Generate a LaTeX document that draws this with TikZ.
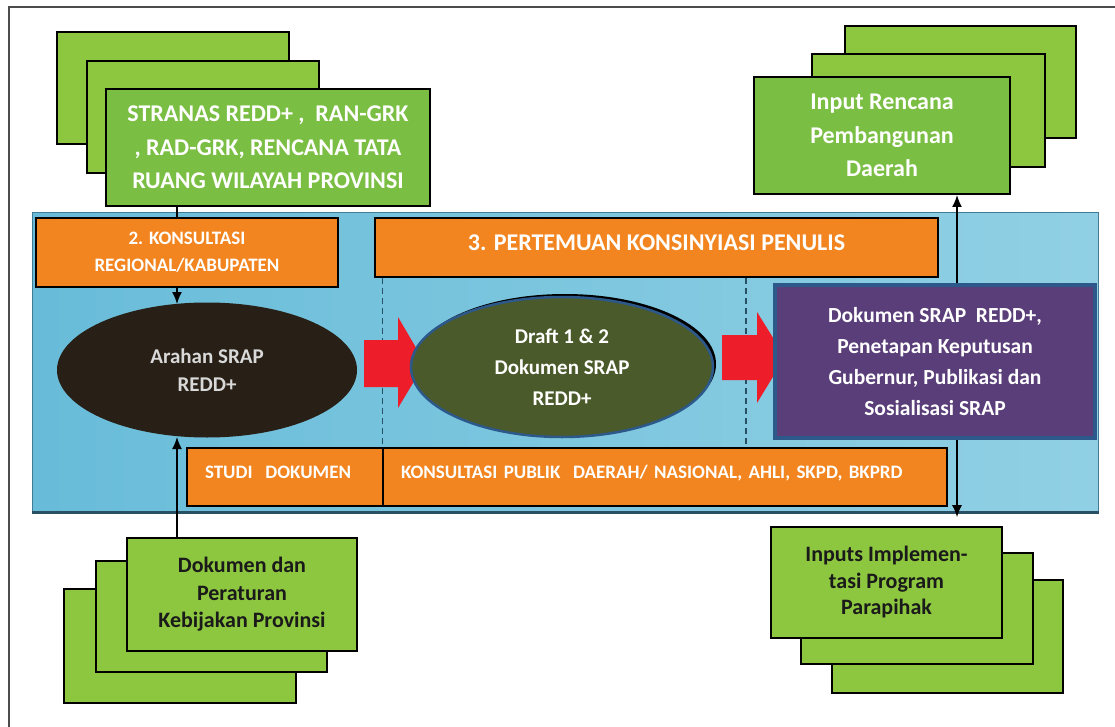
\documentclass[tikz,border=0pt]{standalone}
\usepackage{fontspec}
\setmainfont{Carlito}
\usetikzlibrary{shapes.geometric,arrows.meta}
\definecolor{leafgreen}{RGB}{122,190,67}
\definecolor{limegreen}{RGB}{141,198,63}
\definecolor{konsorange}{RGB}{242,133,31}
\definecolor{bandblue}{RGB}{104,188,217}
\definecolor{bandlight}{RGB}{145,208,228}
\definecolor{bandedge}{RGB}{40,80,100}
\definecolor{arahbrown}{RGB}{40,32,22}
\definecolor{draftolive}{RGB}{74,90,42}
\definecolor{edgeblue}{RGB}{45,88,138}
\definecolor{srappurple}{RGB}{89,62,121}
\definecolor{flowred}{RGB}{238,29,42}
\definecolor{darktext}{RGB}{26,26,26}

\begin{document}
\begin{tikzpicture}[x=1pt, y=-1pt,
  stackback/.style={draw=black, line width=1.6pt, fill=limegreen, minimum width=232pt, minimum height=112pt, inner sep=0pt},
  stackfront/.style={draw=black, line width=2pt, fill=leafgreen, text=white, align=center, inner sep=0pt},
  kotak/.style={draw=black, line width=1.2pt, fill=konsorange, text=white, align=center, inner sep=0pt},
  kotakkiri/.style={draw=black, line width=1.2pt, fill=konsorange, text=white, align=left, inner xsep=18pt, inner ysep=0pt, minimum height=58pt, text height=14pt, text depth=12pt, font=\bfseries\fontsize{19}{23}\selectfont},
  panah/.style={-{Latex[length=12pt, width=10pt]}, line width=1.6pt},
  garisputus/.style={bandedge, line width=1.2pt, dash pattern=on 6pt off 4pt}]
\useasboundingbox (0,0) rectangle (1115,727);
\fill[white] (0,0) rectangle (1115,727);
\draw[line width=2pt, black!70] (9,727) -- (9,7) -- (1115,7);

% pita biru
\node[draw=bandedge!60!bandblue, line width=1pt, left color=bandblue, middle color=bandblue, right color=bandlight, minimum width=1066pt, minimum height=299pt, inner sep=0pt] (band) at (565,362.5) {};
\draw[line width=2.5pt, bandedge] (band.south west) -- (band.south east);

% tumpukan kiri atas
\node[stackback] (stranasC) at (173,88) {};
\node[stackback] (stranasB) at (203,117) {};
\node[stackfront, minimum width=324pt, minimum height=117pt, font=\bfseries\fontsize{24}{33.5}\selectfont] (stranas) at (268,147.5) {STRANAS REDD+ ,~~RAN-GRK\\, RAD-GRK, RENCANA TATA\\RUANG WILAYAH PROVINSI};

% tumpukan kanan atas
\node[stackback, minimum width=231pt] (rencanaC) at (960.5,82) {};
\node[stackback, minimum width=233pt, minimum height=113pt] (rencanaB) at (928.5,110.5) {};
\node[stackfront, minimum width=256pt, minimum height=117pt, font=\bfseries\fontsize{24}{33.5}\selectfont] (rencana) at (882,135.5) {Input Rencana\\Pembangunan\\Daerah};

% tumpukan kiri bawah
\node[stackback, minimum height=114pt] (dokumenC) at (180,646) {};
\node[stackback, minimum width=231pt, minimum height=111pt] (dokumenB) at (211.5,616.5) {};
\node[stackback, minimum width=230pt, minimum height=113pt, text=darktext, align=center, font=\bfseries\fontsize{22}{27.5}\selectfont] (dokumen) at (242,594.5) {Dokumen dan\\Peraturan\\Kebijakan Provinsi};

% tumpukan kanan bawah
\node[stackback, minimum width=231pt, minimum height=113pt] (implemC) at (947.5,636.5) {};
\node[stackback, minimum height=111pt] (implemB) at (917,608.5) {};
\node[stackback, minimum width=231pt, minimum height=111pt, text=darktext, align=center, font=\bfseries\fontsize{22}{26.5}\selectfont] (implem) at (886.5,582.5) {Inputs Implemen-\\tasi Program\\Parapihak};

% panah hitam
\draw[panah] (stranas.south -| 177,0) -- (177,304);
\draw[panah] (dokumen.north -| 177,0) -- (177,437);
\coordinate (sisi) at (957,0);
\draw[{Latex[length=12pt, width=10pt]}-{Latex[length=12pt, width=10pt]}, line width=1.6pt, shorten <=9pt] (implem.north -| sisi) -- (rencana.south -| sisi);

% kotak oranye
\node[kotak, minimum width=302pt, minimum height=69pt, font=\bfseries\fontsize{19}{27}\selectfont] (regional) at (187,252.5) {2. KONSULTASI\\REGIONAL/KABUPATEN};
\node[kotak, minimum width=563pt, minimum height=59pt, text depth=9pt, font=\bfseries\fontsize{24}{28}\selectfont] (pertemuan) at (656.5,247.5) {3. PERTEMUAN KONSINYIASI PENULIS};
\node[kotakkiri, text width=160pt] (studi) at (285,477) {STUDI~~DOKUMEN};
\node[kotakkiri, text width=528pt] (publik) at (665,477) {KONSULTASI PUBLIK~~DAERAH/ NASIONAL, AHLI, SKPD, BKPRD};

% garis putus-putus
\coordinate (batas) at (746,0);
\draw[garisputus] (publik.north west |- pertemuan.south) -- (publik.north west);
\draw[garisputus] (batas |- pertemuan.south) -- (batas |- publik.north);

% panah merah
\fill[flowred] (364,340) -- (398,340) -- (398,317) -- (425,363) -- (398,408) -- (398,387) -- (364,387) -- cycle;
\fill[flowred] (722,335) -- (757,335) -- (757,312) -- (785,357) -- (757,403) -- (757,380) -- (722,380) -- cycle;

% elips dan kotak ungu
\node[ellipse, fill=arahbrown, text=white!85!black, minimum width=300pt, minimum height=135pt, inner sep=0pt, align=center, font=\bfseries\fontsize{21}{28}\selectfont] (arahan) at (207,370) {Arahan SRAP\\REDD+};
\node[ellipse, draw=edgeblue, line width=2.5pt, fill=draftolive, text=white, minimum width=302pt, minimum height=140pt, inner sep=0pt, align=center, font=\bfseries\fontsize{21}{31}\selectfont,
  preaction={fill=black, transform canvas={shift={(3pt,3pt)}}}] (draft) at (562,367) {Draft 1 \& 2\\Dokumen SRAP\\REDD+};
\node[draw=edgeblue, line width=3.5pt, fill=srappurple, text=white, minimum width=320pt, minimum height=153pt, inner sep=0pt, align=center, font=\bfseries\fontsize{21.5}{31}\selectfont] (srap) at (935,361.5) {Dokumen SRAP~~REDD+,\\Penetapan Keputusan\\Gubernur, Publikasi dan\\Sosialisasi SRAP};
\end{tikzpicture}
\end{document}
